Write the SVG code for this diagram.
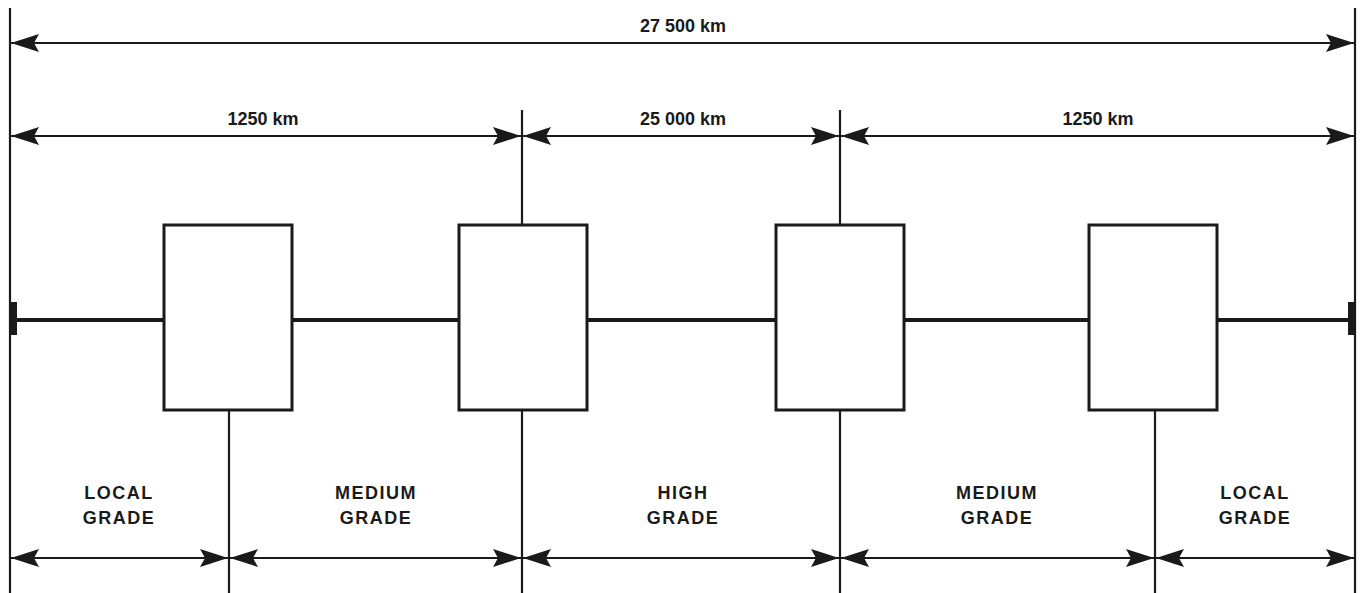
<svg xmlns="http://www.w3.org/2000/svg" width="1360" height="593" viewBox="0 0 1360 593">
<style>
.dim{stroke:#1a1a1a;stroke-width:2.2;fill:none;marker-start:url(#ah);marker-end:url(#ah)}
.ext{stroke:#1a1a1a;stroke-width:2.2;fill:none}
.main{stroke:#1a1a1a;stroke-width:4;fill:none}
.box{fill:#fff;stroke:#1a1a1a;stroke-width:3}
.t{font-family:"Liberation Sans",Arial,sans-serif;font-weight:bold;font-size:18px;fill:#1a1a1a;text-anchor:middle}
.g{letter-spacing:1.5px}
</style>
<defs>
<marker id="ah" markerUnits="userSpaceOnUse" viewBox="0 0 28 18" refX="28" refY="9" markerWidth="28" markerHeight="18" orient="auto-start-reverse">
<path d="M0,0 L28,9 L0,18 L5,9 Z" fill="#1a1a1a"/>
</marker>
</defs>
<rect width="1360" height="593" fill="#fff"/>
<g id="connectors">
<line class="ext" x1="10" y1="8" x2="10" y2="593"/>
<line class="ext" x1="1355" y1="8" x2="1355" y2="593"/>
<line class="ext" x1="522" y1="110" x2="522" y2="225"/>
<line class="ext" x1="840" y1="110" x2="840" y2="225"/>
<line class="ext" x1="229" y1="410" x2="229" y2="593"/>
<line class="ext" x1="522" y1="410" x2="522" y2="593"/>
<line class="ext" x1="840" y1="410" x2="840" y2="593"/>
<line class="ext" x1="1155" y1="410" x2="1155" y2="593"/>
<line class="main" x1="12" y1="320" x2="1353" y2="320"/>
<rect x="9" y="302" width="8" height="33" fill="#1a1a1a"/>
<rect x="1348" y="302" width="8" height="33" fill="#1a1a1a"/>
<line class="dim" x1="11" y1="43" x2="1354" y2="43"/>
<line class="dim" x1="11" y1="136" x2="521" y2="136"/>
<line class="dim" x1="523" y1="136" x2="839" y2="136"/>
<line class="dim" x1="841" y1="136" x2="1354" y2="136"/>
<line class="dim" x1="11" y1="558" x2="228" y2="558"/>
<line class="dim" x1="230" y1="558" x2="521" y2="558"/>
<line class="dim" x1="523" y1="558" x2="839" y2="558"/>
<line class="dim" x1="841" y1="558" x2="1154" y2="558"/>
<line class="dim" x1="1156" y1="558" x2="1354" y2="558"/>
</g>
<g id="box1"><rect class="box" x="164" y="225" width="128" height="185"/></g>
<g id="box2"><rect class="box" x="459" y="225" width="128" height="185"/></g>
<g id="box3"><rect class="box" x="776" y="225" width="128" height="185"/></g>
<g id="box4"><rect class="box" x="1089" y="225" width="128" height="185"/></g>
<g id="labels">
<text class="t" x="683" y="32">27 500 km</text>
<text class="t" x="263" y="125">1250 km</text>
<text class="t" x="683" y="125">25 000 km</text>
<text class="t" x="1098" y="125">1250 km</text>
<text class="t g" x="119" y="499">LOCAL</text>
<text class="t g" x="119" y="524">GRADE</text>
<text class="t g" x="376" y="499">MEDIUM</text>
<text class="t g" x="376" y="524">GRADE</text>
<text class="t g" x="683" y="499">HIGH</text>
<text class="t g" x="683" y="524">GRADE</text>
<text class="t g" x="997" y="499">MEDIUM</text>
<text class="t g" x="997" y="524">GRADE</text>
<text class="t g" x="1255" y="499">LOCAL</text>
<text class="t g" x="1255" y="524">GRADE</text>
</g>
</svg>
